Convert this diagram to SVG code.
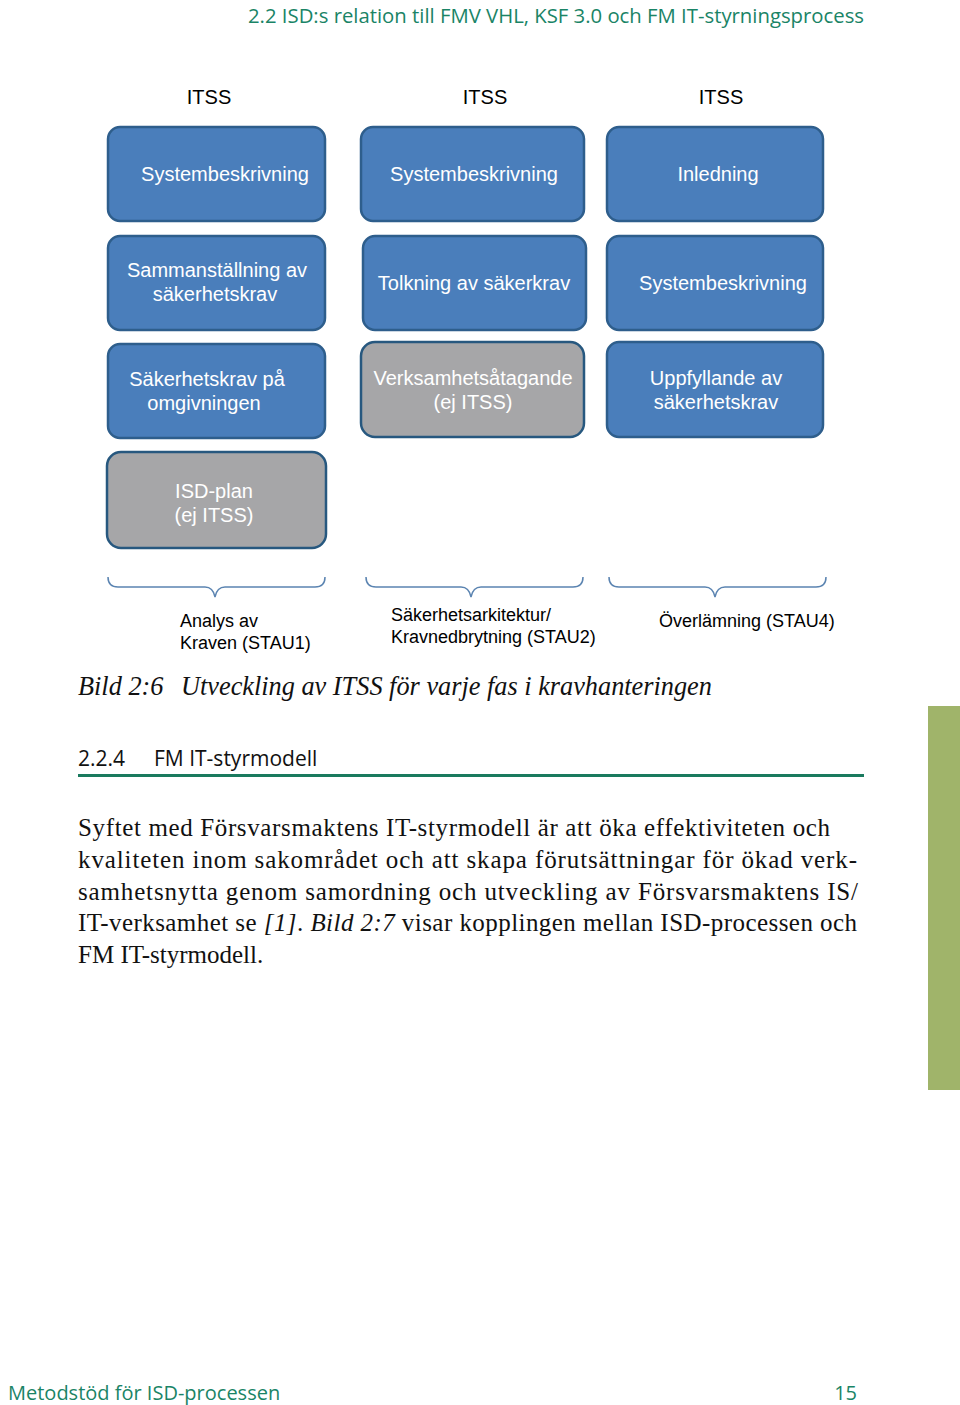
<svg xmlns="http://www.w3.org/2000/svg" width="960" height="1405" viewBox="0 0 960 1405">
<style>
.b{fill:#4a7ebb;stroke:#2e5e8c;stroke-width:2.5}
.g{fill:#a6a6a8;stroke:#27587f;stroke-width:2.5}
.bt{font-family:"Liberation Sans",Arial,sans-serif;font-size:20px;fill:#ffffff;text-anchor:middle}
.it{font-family:"Liberation Sans",Arial,sans-serif;font-size:20px;fill:#000;text-anchor:middle}
.lb{font-family:"Liberation Sans",Arial,sans-serif;font-size:18px;fill:#000}
.br{fill:none;stroke:#5b84b1;stroke-width:1.5}
.hd{font-family:"Open Sans","Noto Sans",sans-serif;fill:#1a8466}
.body{font-family:"Liberation Serif","Times New Roman",serif;font-size:25px;fill:#111}
</style>
<rect width="960" height="1405" fill="#ffffff"/>
<text class="hd" x="248" y="23" font-size="20" textLength="616" lengthAdjust="spacingAndGlyphs">2.2 ISD:s relation till FMV VHL, KSF 3.0 och FM IT-styrningsprocess</text>

<text class="it" x="209" y="104">ITSS</text>
<text class="it" x="485" y="104">ITSS</text>
<text class="it" x="721" y="104">ITSS</text>

<g id="n1"><rect class="b" x="108" y="127" width="217" height="94" rx="12"/><text class="bt" x="225" y="181">Systembeskrivning</text></g>
<g id="n2"><rect class="b" x="361" y="127" width="223" height="94" rx="12"/><text class="bt" x="474" y="181">Systembeskrivning</text></g>
<g id="n3"><rect class="b" x="607" y="127" width="216" height="94" rx="12"/><text class="bt" x="718" y="181">Inledning</text></g>

<g id="n4"><rect class="b" x="108" y="236" width="217" height="94" rx="12"/><text class="bt" x="217" y="277">Sammanställning av</text><text class="bt" x="215" y="301">säkerhetskrav</text></g>
<g id="n5"><rect class="b" x="363" y="236" width="223" height="94" rx="12"/><text class="bt" x="474" y="290">Tolkning av säkerkrav</text></g>
<g id="n6"><rect class="b" x="607" y="236" width="216" height="94" rx="12"/><text class="bt" x="723" y="290">Systembeskrivning</text></g>

<g id="n7"><rect class="b" x="108" y="344" width="217" height="94" rx="12"/><text class="bt" x="207" y="386">Säkerhetskrav på</text><text class="bt" x="204" y="410">omgivningen</text></g>
<g id="n8"><rect class="g" x="361" y="342" width="223" height="95" rx="14"/><text class="bt" x="473" y="385">Verksamhetsåtagande</text><text class="bt" x="473" y="409">(ej ITSS)</text></g>
<g id="n9"><rect class="b" x="607" y="342" width="216" height="95" rx="12"/><text class="bt" x="716" y="385">Uppfyllande av</text><text class="bt" x="716" y="409">säkerhetskrav</text></g>

<g id="n10"><rect class="g" x="107" y="452" width="219" height="96" rx="14"/><text class="bt" x="214" y="498">ISD-plan</text><text class="bt" x="214" y="522">(ej ITSS)</text></g>

<g id="connectors">
<path class="br" d="M108,577 Q108,587 118,587 L205,587 Q213,587 215,597 Q217,587 225,587 L315,587 Q325,587 325,577"/>
<path class="br" d="M366,577 Q366,587 376,587 L461,587 Q469,587 471,597 Q473,587 481,587 L573,587 Q583,587 583,577"/>
<path class="br" d="M609,577 Q609,587 619,587 L705,587 Q713,587 715,597 Q717,587 725,587 L816,587 Q826,587 826,577"/>
</g>

<text class="lb" x="180" y="627">Analys av</text>
<text class="lb" x="180" y="649">Kraven (STAU1)</text>
<text class="lb" x="391" y="621">Säkerhetsarkitektur/</text>
<text class="lb" x="391" y="643">Kravnedbrytning (STAU2)</text>
<text class="lb" x="659" y="627">Överlämning (STAU4)</text>

<text font-family="Liberation Serif,'Times New Roman',serif" font-style="italic" font-size="26.3" fill="#111" x="78" y="695">Bild 2:6<tspan x="181">Utveckling av ITSS för varje fas i kravhanteringen</tspan></text>

<text class="hd" x="78" y="766" font-size="21" style="fill:#111">2.2.4<tspan x="154">FM IT-styrmodell</tspan></text>
<line x1="78" y1="775.5" x2="864" y2="775.5" stroke="#1a7a5e" stroke-width="3"/>

<text class="body" x="78" y="836" textLength="752" lengthAdjust="spacing">Syftet med Försvarsmaktens IT-styrmodell är att öka effektiviteten och</text>
<text class="body" x="78" y="868" textLength="779" lengthAdjust="spacing">kvaliteten inom sakområdet och att skapa förutsättningar för ökad verk-</text>
<text class="body" x="78" y="900" textLength="780" lengthAdjust="spacing">samhetsnytta genom samordning och utveckling av Försvarsmaktens IS/</text>
<text class="body" x="78" y="931" textLength="779" lengthAdjust="spacing">IT-verksamhet se <tspan font-style="italic">[1]</tspan>. <tspan font-style="italic">Bild 2:7</tspan> visar kopplingen mellan ISD-processen och</text>
<text class="body" x="78" y="963">FM IT-styrmodell.</text>

<rect x="928" y="706" width="32" height="384" fill="#a0b46a"/>

<text class="hd" x="8" y="1400" font-size="20">Metodstöd för ISD-processen</text>
<text class="hd" x="857" y="1400" font-size="20" text-anchor="end">15</text>
</svg>
